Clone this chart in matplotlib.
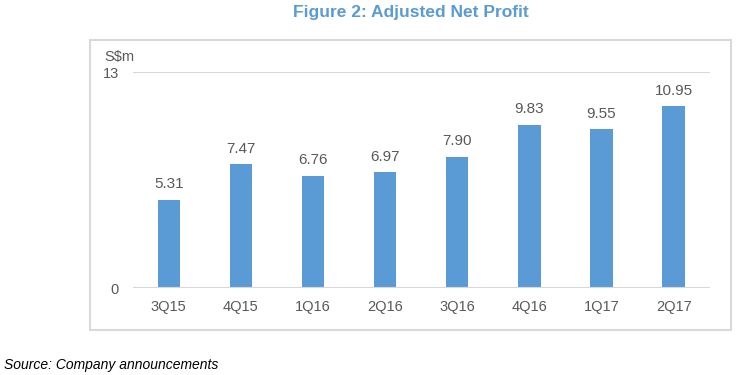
import matplotlib
matplotlib.use("Agg")
import matplotlib.pyplot as plt
from matplotlib.patches import Rectangle

plt.rcParams['font.family'] = ['Liberation Sans Narrow', 'Liberation Sans', 'DejaVu Sans']

BLUE = "#5b9bd5"; GREY = "#595959"; LIGHT = "#d9d9d9"

quarters = ["3Q15", "4Q15", "1Q16", "2Q16", "3Q16", "4Q16", "1Q17", "2Q17"]
profit = [5.31, 7.47, 6.76, 6.97, 7.90, 9.83, 9.55, 10.95]
yticks = [0, 13]

fig = plt.figure(figsize=(7.37, 3.75), dpi=100)
fig.patch.set_facecolor("white")

# outer frame around the chart
fig.add_artist(Rectangle((0.122, 0.12), 0.870, 0.773, transform=fig.transFigure,
                         fill=False, ec=LIGHT, lw=1.5))

ax = fig.add_axes([0.180, 0.232, 0.783, 0.576])
x = range(len(quarters))
ax.bar(x, profit, width=0.31, color=BLUE, zorder=3)
for xi, v in zip(x, profit):
    ax.annotate(f"{v:.2f}", (xi, v), xytext=(0, 6), textcoords="offset points",
                ha="center", va="bottom", fontsize=11, color=GREY)

ax.set_xlim(-0.5, len(quarters) - 0.5)
ax.set_ylim(0, 13)
ax.set_yticks(yticks)
ax.set_yticklabels([str(t) for t in yticks], fontsize=10.5, color=GREY)
ax.set_xticks(list(x))
ax.set_xticklabels(quarters, fontsize=10.5, color=GREY)
ax.tick_params(length=0, pad=9)
ax.tick_params(axis="y", pad=10)
for s in ax.spines.values():
    s.set_visible(False)
ax.axhline(13, color=LIGHT, lw=1.5, zorder=1)
ax.axhline(0, color=LIGHT, lw=1.5, zorder=4)

fig.text(0.141, 0.848, "S$m", fontsize=10.5, color=GREY, ha="left", va="center")
fig.text(0.558, 0.968, "Figure 2: Adjusted Net Profit", fontsize=12.5, fontweight="bold",
         color=BLUE, ha="center", va="center")
fig.text(0.006, 0.027, "Source: Company announcements", fontsize=10, style="italic",
         color="black", ha="left", va="center")

fig.savefig("out.png", dpi=100, facecolor="white")
